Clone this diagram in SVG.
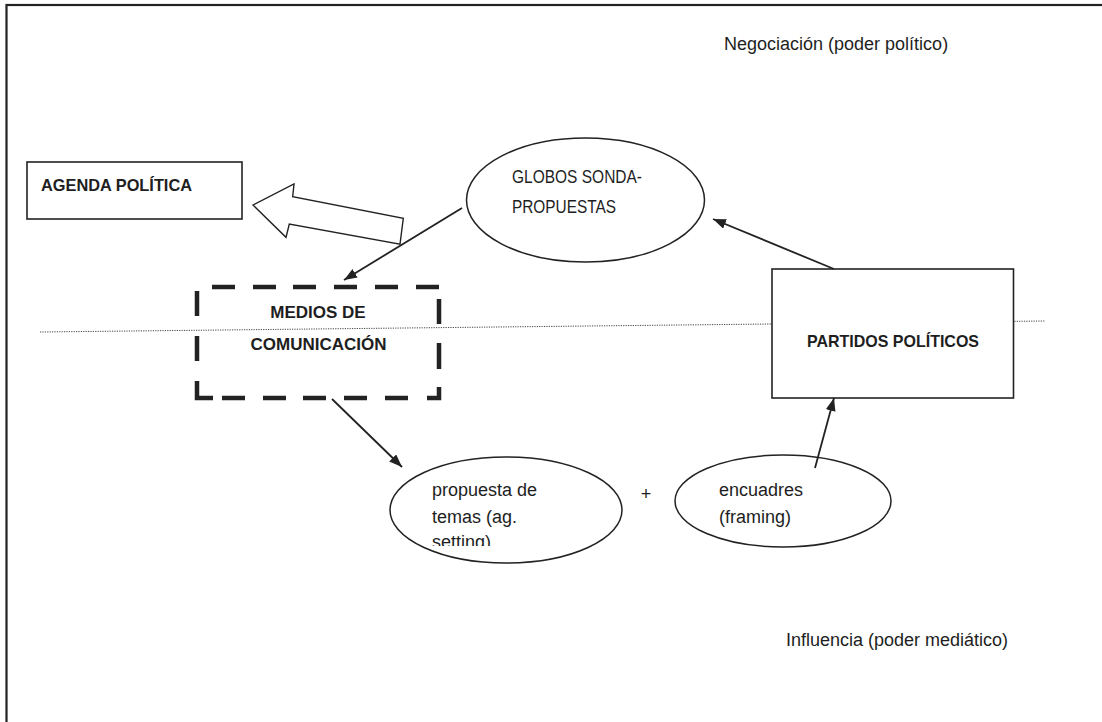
<svg xmlns="http://www.w3.org/2000/svg" width="1102" height="722" viewBox="0 0 1102 722">
  <style>
    .frame { fill: none; stroke: #222; stroke-width: 2.2; }
    .box { fill: #fff; stroke: #222; stroke-width: 1.6; }
    .oval { fill: #fff; stroke: #222; stroke-width: 1.5; }
    .dash { fill: none; stroke: #222; stroke-width: 4.5; stroke-linecap: butt; stroke-linejoin: miter; }
    .edge { fill: none; stroke: #222; stroke-width: 1.8; }
    .divider { fill: none; stroke: #444; stroke-width: 1; stroke-dasharray: 1.2 1.2; }
    .hollow { fill: #fff; stroke: #222; stroke-width: 1.4; stroke-linejoin: miter; }
    .t { font-family: "Liberation Sans", Arial, sans-serif; font-size: 18px; fill: #1e1e1e; }
    .b { font-family: "Liberation Sans", Arial, sans-serif; font-size: 17px; font-weight: bold; fill: #1e1e1e; }
  </style>
  <defs>
    <marker id="arrow" markerUnits="userSpaceOnUse" markerWidth="14" markerHeight="11" refX="13" refY="5" orient="auto">
      <path d="M0,0 L13,5 L0,10 z" fill="#222"/>
    </marker>
    <clipPath id="clipTopics">
      <rect x="380" y="440" width="250" height="106"/>
    </clipPath>
  </defs>

  <rect width="1102" height="722" fill="#fff"/>
  <!-- page frame -->
  <rect class="frame" x="6.5" y="5" width="1200" height="800"/>

  <!-- region captions -->
  <text class="t" x="724" y="50">Negociación (poder político)</text>
  <text class="t" x="786" y="646">Influencia (poder mediático)</text>

  <!-- dotted divider between the two spheres -->
  <line class="divider" x1="40" y1="332" x2="1045" y2="321"/>

  <g id="agenda">
    <rect class="box" x="27" y="162" width="215" height="57"/>
    <text class="b" x="41" y="191" textLength="151" lengthAdjust="spacingAndGlyphs">AGENDA POLÍTICA</text>
  </g>

  <g id="agenda-arrow">
    <polygon class="hollow" points="253,205 294,184 292.7,196.7 403.3,218.3 400,244.3 289.3,224 286,237.3"/>
  </g>

  <g id="globos">
    <ellipse class="oval" cx="585.5" cy="200" rx="119" ry="62"/>
    <text class="t" x="512" y="183" textLength="130" lengthAdjust="spacingAndGlyphs">GLOBOS SONDA-</text>
    <text class="t" x="512" y="213" textLength="104" lengthAdjust="spacingAndGlyphs">PROPUESTAS</text>
  </g>

  <g id="medios">
    <path class="dash" d="M197,291 V316 M197,336 V361 M197,381 V398 H213 M222,398 H245 M263,398 H286 M303,398 H326 M344,398 H367 M385,398 H408 M427,398 H439 V387 M439,369 V343 M439,324 V299 M212,287 H235 M253,287 H276 M293,287 H316 M334,287 H357 M375,287 H398 M416,287 H439"/>
    <text class="b" x="318" y="318" text-anchor="middle">MEDIOS DE</text>
    <text class="b" x="318.5" y="350" text-anchor="middle">COMUNICACIÓN</text>
  </g>

  <g id="partidos">
    <rect class="box" x="772" y="269" width="241.5" height="129"/>
    <text class="b" x="807" y="347" textLength="172" lengthAdjust="spacingAndGlyphs">PARTIDOS POLÍTICOS</text>
  </g>

  <g id="propuesta">
    <ellipse class="oval" cx="506" cy="510" rx="116" ry="53"/>
    <g clip-path="url(#clipTopics)">
      <text class="t" x="432" y="496">propuesta de</text>
      <text class="t" x="432" y="523">temas (ag.</text>
      <text class="t" x="432" y="548">setting)</text>
    </g>
  </g>

  <g id="plus">
    <text class="t" x="646" y="500" text-anchor="middle">+</text>
  </g>

  <g id="encuadres">
    <ellipse class="oval" cx="783" cy="501" rx="108" ry="46"/>
    <text class="t" x="719" y="496">encuadres</text>
    <text class="t" x="719" y="523">(framing)</text>
  </g>

  <g id="connectors">
    <line class="edge" x1="834" y1="269" x2="713" y2="219" marker-end="url(#arrow)"/>
    <line class="edge" x1="462" y1="208" x2="344" y2="280" marker-end="url(#arrow)"/>
    <line class="edge" x1="332" y1="399" x2="402" y2="467" marker-end="url(#arrow)"/>
    <line class="edge" x1="815" y1="468" x2="834" y2="398" marker-end="url(#arrow)"/>
  </g>
</svg>
